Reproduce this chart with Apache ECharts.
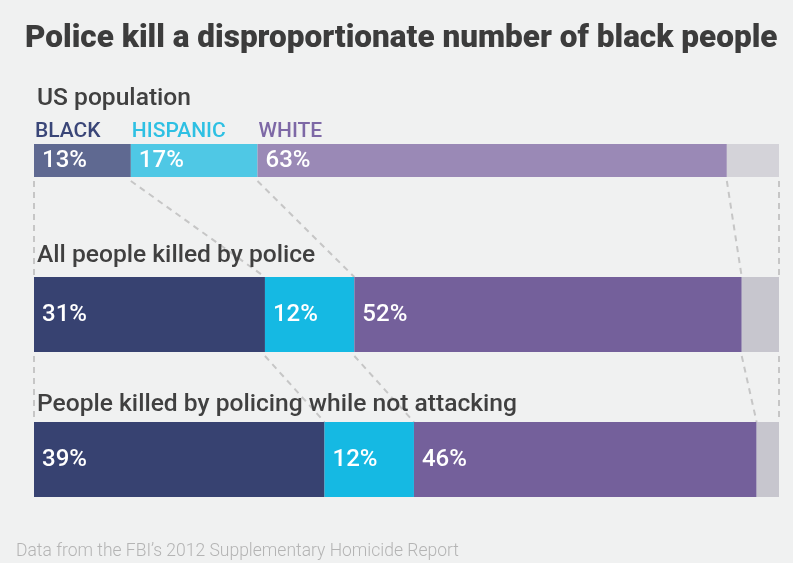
<!DOCTYPE html>
<html><head><meta charset="utf-8">
<script src="https://cdn.jsdelivr.net/npm/echarts@6/dist/echarts.min.js"></script>
<style>html,body{margin:0;padding:0;background:#f0f1f1}#c{width:793px;height:563px}</style>
</head><body><div id="c"></div>
<script>
const titleText = 'Police kill a disproportionate number of black people';
const footnote = 'Data from the FBI\u2019s 2012 Supplementary Homicide Report';
const rows = ['US population', 'All people killed by police', 'People killed by policing while not attacking'];
const groups = ['BLACK', 'HISPANIC', 'WHITE', 'OTHER'];
const black = [13, 31, 39];
const hispanic = [17, 12, 12];
const white = [63, 52, 46];
const other = [7, 5, 3];

const values = [black, hispanic, white, other];
const colorsFirst = ['#5f6991', '#4fc8e5', '#9a89b6', '#d4d3d9'];
const colorsMain = ['#374271', '#15b9e3', '#74609b', '#c7c6ce'];
const legendColors = ['#3a4678', '#2ec0e3', '#7d68a6'];
const gridTop = [144, 277, 422];
const gridH = [33, 75, 75];
const titleY = [98.5, 255.5, 405];
const FONT = 'Roboto, "Noto Sans", sans-serif';

const grids = [], xAxes = [], yAxes = [], series = [];
rows.forEach((r, i) => {
  grids.push({left: 34, right: 14, top: gridTop[i], height: gridH[i]});
  xAxes.push({type: 'value', gridIndex: i, min: 0, max: 100, show: false});
  yAxes.push({type: 'category', gridIndex: i, data: [r], show: false});
  groups.forEach((g, k) => {
    series.push({
      type: 'bar', name: g, xAxisIndex: i, yAxisIndex: i, stack: 'row' + i,
      barWidth: '100%', silent: true,
      itemStyle: {color: (i === 0 ? colorsFirst : colorsMain)[k]},
      label: {show: k < 3, position: 'insideLeft', distance: 8, formatter: '{c}%',
        color: '#ffffff', fontSize: 24, fontWeight: 500, fontFamily: FONT},
      data: [values[k][i]]
    });
  });
});

const chart = echarts.init(document.getElementById('c'));
chart.setOption({
  backgroundColor: '#f0f1f1',
  animation: false,
  grid: grids, xAxis: xAxes, yAxis: yAxes, series: series
});

const gfx = [];
gfx.push({type: 'text', x: 25, y: 39.5, z: 10,
  style: {text: titleText, fill: '#3c3c3c', font: '900 31.5px ' + FONT, verticalAlign: 'middle'}});
rows.forEach((r, i) => {
  gfx.push({type: 'text', x: 37, y: titleY[i], z: 10,
    style: {text: r, fill: '#404040', font: '500 24.6px ' + FONT, verticalAlign: 'middle'}});
});
// legend labels above the first bar at segment starts
let cum = 0;
for (let k = 0; k < 3; k++) {
  const px = chart.convertToPixel({gridIndex: 0}, [cum, 0])[0];
  gfx.push({type: 'text', x: px + 1, y: 131.5, z: 10,
    style: {text: groups[k], fill: legendColors[k], font: '500 21px ' + FONT, verticalAlign: 'middle'}});
  cum += values[k][0];
}
// dashed connectors between consecutive bars
function bounds(i) {
  const b = [0]; let c = 0;
  for (let k = 0; k < 4; k++) { c += values[k][i]; b.push(c); }
  return b;
}
for (let i = 0; i < 2; i++) {
  const b1 = bounds(i), b2 = bounds(i + 1);
  for (let j = 0; j < b1.length; j++) {
    const x1 = chart.convertToPixel({gridIndex: i}, [Math.min(b1[j], 100), 0])[0];
    const x2 = chart.convertToPixel({gridIndex: i + 1}, [Math.min(b2[j], 100), 0])[0];
    gfx.push({type: 'line', z: 1, silent: true,
      shape: {x1: x1, y1: gridTop[i] + gridH[i] + 4, x2: x2, y2: gridTop[i + 1]},
      style: {stroke: '#c6c6c6', lineWidth: 2, lineDash: [6, 5]}});
  }
}
gfx.push({type: 'text', x: 16, y: 552, z: 10,
  style: {text: footnote, fill: '#b4b4b4', font: '300 17.5px ' + FONT, verticalAlign: 'middle'}});
chart.setOption({graphic: gfx});
</script></body></html>
